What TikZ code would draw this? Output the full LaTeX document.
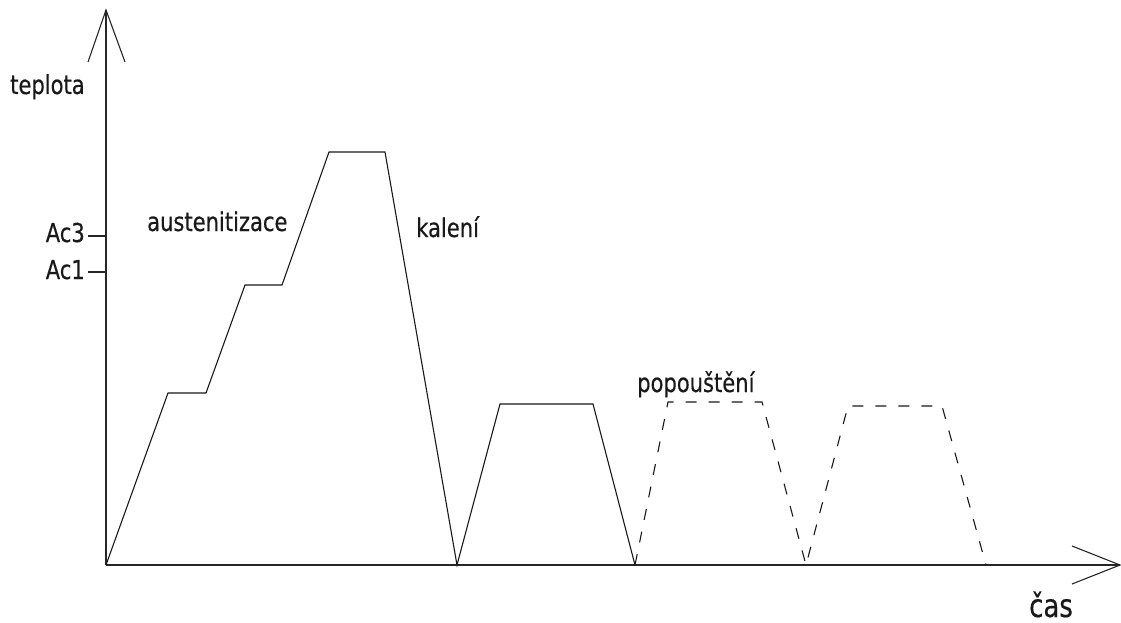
\documentclass[tikz,border=0pt]{standalone}
\usepackage{fontspec}
\setmainfont[FakeStretch=0.81,FakeBold=0.4]{DejaVu Sans}
\usetikzlibrary{calc}
\begin{document}
\begin{tikzpicture}[x=1pt,y=-1pt,
    line join=miter,
    axis/.style={line width=1.1pt,draw=black!85},
    curve/.style={line width=1.1pt,draw=black!90},
    dcurve/.style={curve,dash pattern=on 11pt off 12pt},
    lbl/.style={inner sep=0pt,anchor=base west,font=\fontsize{26}{30}\selectfont,text=black!90},
    albl/.style={lbl,anchor=base east}]
  \useasboundingbox (0,0) rectangle (1121,623);

  % axes
  \coordinate (O) at (106,565);
  \coordinate (ytip) at (106,10);
  \coordinate (xtip) at (1120,565);
  \draw[axis] (O) -- (ytip);
  \draw[axis] (O) -- (xtip);
  \draw[axis] ($(ytip)+(-18,52)$) -- (ytip) -- ($(ytip)+(19,52)$);
  \draw[axis] ($(xtip)+(-48,-19)$) -- (xtip) -- ($(xtip)+(-48,19)$);

  % critical temperatures
  \coordinate (ac3) at (106,236);
  \coordinate (ac1) at (106,272);
  \draw[axis] (ac3) -- ++(-18,0);
  \draw[axis] (ac1) -- ++(-18,0);
  \node[albl] (tac3) at (85,242) {Ac3};
  \node[albl] (tac1) at (85,279) {Ac1};

  % heating with steps, hardening, first tempering
  \coordinate (p1) at (168,393);
  \coordinate (p2) at (206,393);
  \coordinate (p3) at (245,285);
  \coordinate (p4) at (282,285);
  \coordinate (p5) at (329,152);
  \coordinate (p6) at (385,152);
  \coordinate (q0) at (457,565);
  \coordinate (q1) at (500,404);
  \coordinate (q2) at (593,404);
  \coordinate (q3) at (635,565);
  \draw[curve] (O) -- (p1) -- (p2) -- (p3) -- (p4) -- (p5) -- (p6)
    -- (q0) -- (q1) -- (q2) -- (q3);

  % repeated tempering
  \coordinate (r1) at (668,402);
  \coordinate (r2) at (762,402);
  \coordinate (r3) at (806,565);
  \coordinate (s1) at (848,406);
  \coordinate (s2) at (942,406);
  \coordinate (s3) at (986,565);
  \draw[dcurve] (q3) -- (r1) -- (r2) -- (r3) -- (s1) -- (s2) -- (s3);

  % labels
  \node[lbl] (tteplota) at (10,94) {teplota};
  \node[lbl] (taust) at (147,231) {austenitizace};
  \node[lbl] (tkal) at (416,237) {kalení};
  \node[lbl] (tpop) at (637,392) {popouštění};
  \node[lbl,font=\fontsize{32}{36}\selectfont] (tcas) at (1029,617) {čas};
\end{tikzpicture}
\end{document}
